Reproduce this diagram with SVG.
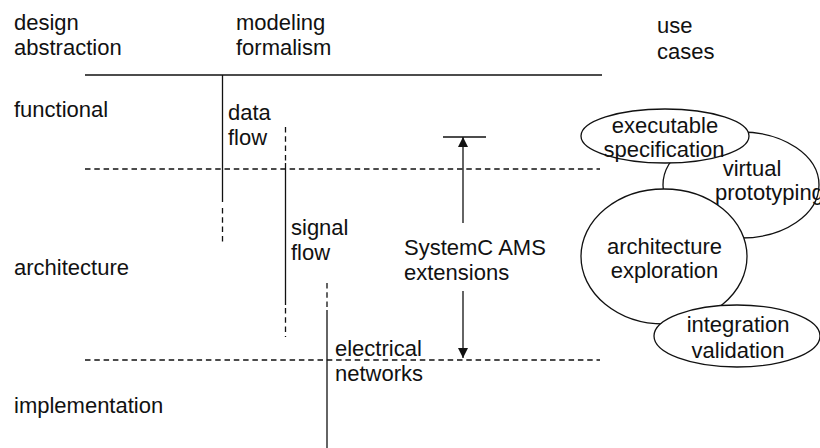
<svg xmlns="http://www.w3.org/2000/svg" width="820" height="448" viewBox="0 0 820 448">
  <style>
    text { font-family: "Liberation Sans", Arial, sans-serif; font-size: 22px; fill: #111; }
    .mid { text-anchor: middle; }
    .solid { stroke: #111; stroke-width: 1.3; fill: none; }
    .dash { stroke: #111; stroke-width: 1.3; fill: none; stroke-dasharray: 5.5 3.8; }
    .oval { stroke: #111; stroke-width: 1.3; fill: #fff; }
  </style>
  <defs>
    <marker id="head" viewBox="0 0 10 10" refX="10" refY="5" markerWidth="10" markerHeight="10" markerUnits="userSpaceOnUse" orient="auto">
      <path d="M0,0 L10,5 L0,10 z" fill="#111"/>
    </marker>
  </defs>
  <rect width="820" height="448" fill="#fff"/>

  <!-- column headings -->
  <g id="headings">
    <text x="14" y="30">design</text>
    <text x="14" y="55">abstraction</text>
    <text x="236" y="30">modeling</text>
    <text x="236" y="55">formalism</text>
    <text x="657" y="33">use</text>
    <text x="657" y="59">cases</text>
  </g>

  <!-- abstraction levels -->
  <g id="levels">
    <text x="14" y="117">functional</text>
    <text x="14" y="275">architecture</text>
    <text x="14" y="413">implementation</text>
  </g>

  <!-- header rule and level separators -->
  <g id="rules">
    <line class="solid" x1="85" y1="75" x2="602" y2="75" stroke="#333"/>
    <line class="dash" x1="85" y1="169" x2="600" y2="169"/>
    <line class="dash" x1="85" y1="360" x2="600" y2="360"/>
  </g>

  <!-- modeling formalisms -->
  <g id="data-flow">
    <line class="solid" x1="222.5" y1="75" x2="222.5" y2="202"/>
    <line class="dash" x1="222.5" y1="208" x2="222.5" y2="242"/>
    <text x="228" y="120">data</text>
    <text x="228" y="145">flow</text>
  </g>
  <g id="signal-flow">
    <line class="dash" x1="285.5" y1="127" x2="285.5" y2="163"/>
    <line class="solid" x1="285.5" y1="163" x2="285.5" y2="305"/>
    <line class="dash" x1="285.5" y1="308" x2="285.5" y2="337"/>
    <text x="291" y="235">signal</text>
    <text x="291" y="260">flow</text>
  </g>
  <g id="electrical-networks">
    <line class="dash" x1="327" y1="283" x2="327" y2="308"/>
    <line class="solid" x1="327" y1="310" x2="327" y2="448"/>
    <text x="335" y="356">electrical</text>
    <text x="335" y="381">networks</text>
  </g>

  <!-- SystemC AMS range -->
  <g id="systemc-ams">
    <line class="solid" x1="443" y1="137" x2="486" y2="137"/>
    <text x="404" y="255">SystemC AMS</text>
    <text x="404" y="280">extensions</text>
  </g>
  <g id="connectors">
    <line class="solid" x1="463" y1="223" x2="463" y2="137" marker-end="url(#head)"/>
    <line class="solid" x1="463" y1="291" x2="463" y2="358" marker-end="url(#head)"/>
  </g>

  <!-- use cases -->
  <g id="virtual-prototyping">
    <ellipse class="oval" cx="741" cy="185" rx="78" ry="53"/>
    <text x="752" y="176" class="mid">virtual</text>
    <text x="715" y="200">prototyping</text>
  </g>
  <g id="executable-specification">
    <ellipse class="oval" cx="665" cy="136" rx="84" ry="27"/>
    <text x="665" y="133" class="mid">executable</text>
    <text x="664" y="157" class="mid">specification</text>
  </g>
  <g id="architecture-exploration">
    <ellipse class="oval" cx="664" cy="256.5" rx="83" ry="67.5"/>
    <text x="664.5" y="254" class="mid">architecture</text>
    <text x="664.5" y="278" class="mid">exploration</text>
  </g>
  <g id="integration-validation">
    <ellipse class="oval" cx="737" cy="336" rx="83" ry="31"/>
    <text x="738" y="332" class="mid">integration</text>
    <text x="738" y="358" class="mid">validation</text>
  </g>
</svg>
